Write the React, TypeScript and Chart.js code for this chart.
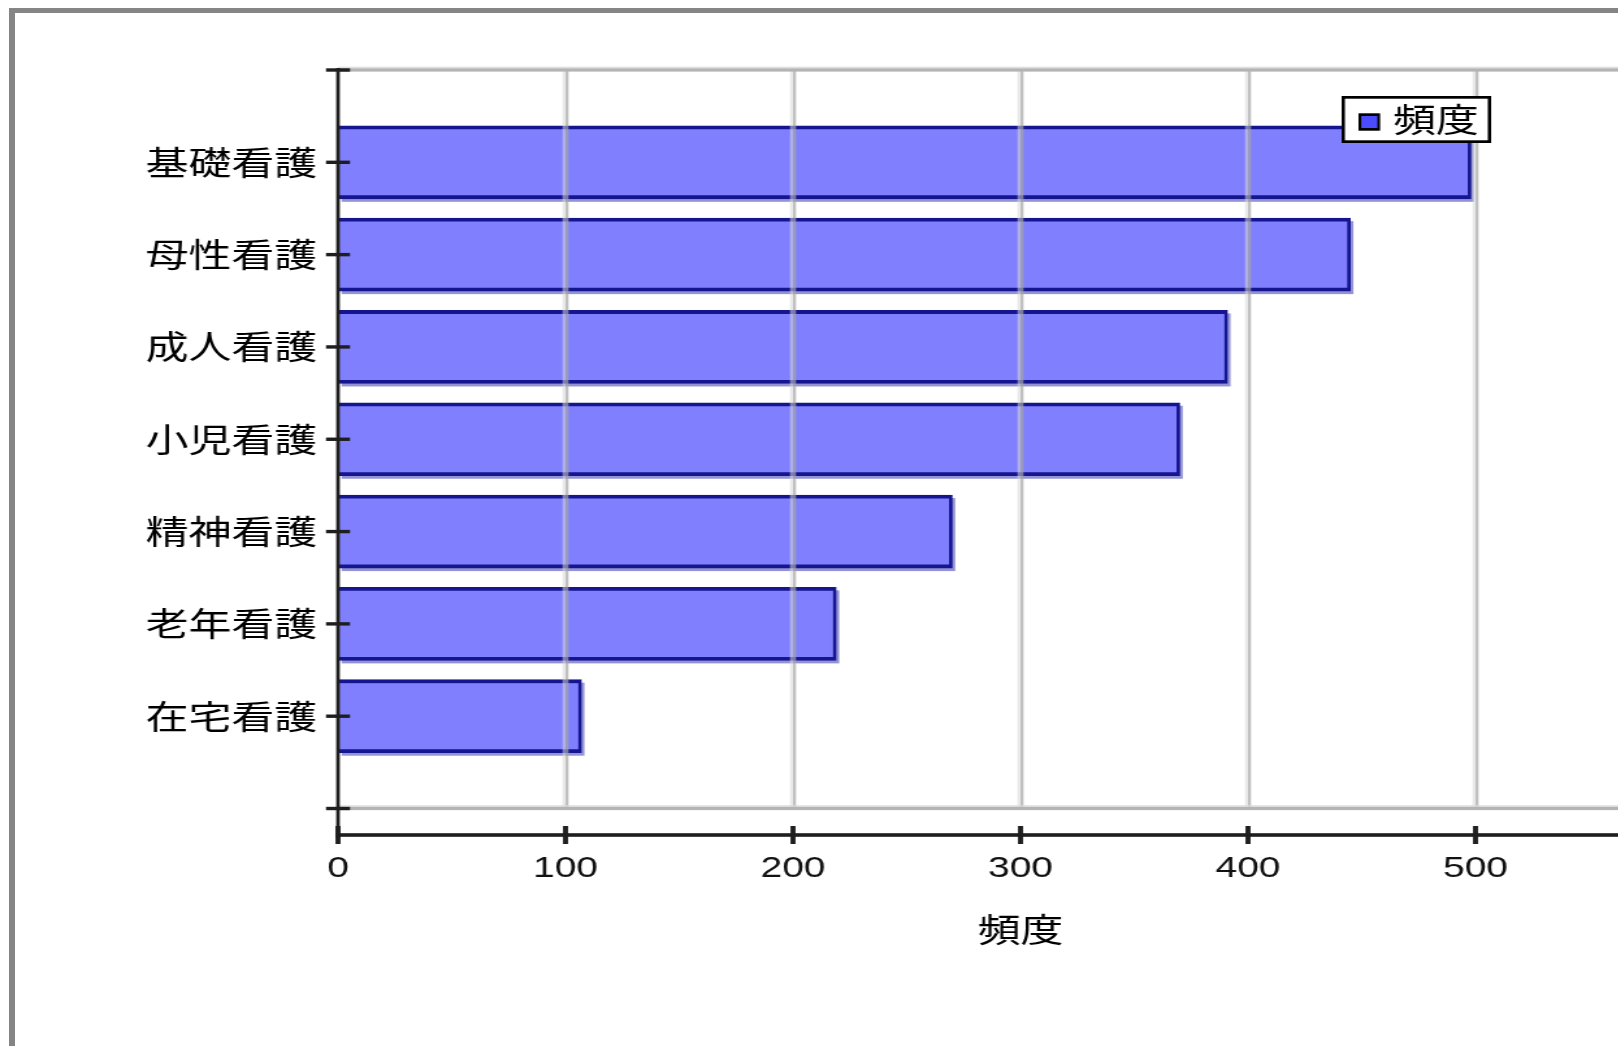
import React, { useEffect, useRef } from 'react';
import { Chart, registerables } from 'chart.js';

Chart.register(...registerables);

// ---- data ----
const CATEGORIES = ['基礎看護', '母性看護', '成人看護', '小児看護', '精神看護', '老年看護', '在宅看護'];
const VALUES = [498, 445, 391, 370, 270, 219, 107];
const SERIES_LABEL = '頻度';
const AXIS_TITLE = '頻度';
const X_TICKS = [0, 100, 200, 300, 400, 500, 600];
const Y_SLOTS = [0, 1, 2, 3, 4, 5, 6, 7, 8];

// ---- style / layout ----
const SX = 1.3; // horizontal stretch of the original rendering
const CW = 1380;
const CH = 1046;
const CJK = '"Noto Sans CJK JP", "Noto Sans CJK SC", sans-serif';
const LAT = '"Liberation Sans", Arial, sans-serif';
const AREA_LEFT = 260;
const AREA_RIGHT = 1310;
const AREA_TOP = 70;
const AREA_BOTTOM = 835;
const X_SCALE_H = 120;
const Y_MAX = 8.287;

export default function App() {
  const ref = useRef<HTMLCanvasElement>(null);

  useEffect(() => {
    const canvas = ref.current;
    if (!canvas) return;

    const overlay = {
      id: 'overlay',
      beforeDatasetsDraw(chart: any) {
        const { ctx } = chart;
        const meta = chart.getDatasetMeta(0);
        ctx.save();
        ctx.fillStyle = 'rgba(40,40,170,0.5)';
        const dx = 3 / SX;
        const dy = 3;
        meta.data.forEach((bar: any) => {
          const { x, y, base, height } = bar.getProps(['x', 'y', 'base', 'height'], true);
          ctx.fillRect(base + dx, y - height / 2 + dy, x - base, height);
        });
        ctx.restore();
      },
      afterDatasetsDraw(chart: any) {
        const { ctx, chartArea, scales } = chart;
        const xs = scales.x;
        const ys = scales.y;
        const yTop = ys.getPixelForValue(Y_SLOTS[0]);
        const yBot = ys.getPixelForValue(Y_SLOTS[Y_SLOTS.length - 1]);
        const axX = chartArea.left;
        const w = chartArea.right - chartArea.left + 60;
        ctx.save();
        // vertical grid lines
        X_TICKS.forEach((v) => {
          if (v === 0) return;
          const px = xs.getPixelForValue(v);
          ctx.fillStyle = 'rgba(215,215,215,0.55)';
          ctx.fillRect(px - 3 / SX, yTop, 3 / SX, yBot - yTop);
          ctx.fillStyle = 'rgba(165,165,165,0.7)';
          ctx.fillRect(px, yTop, 3 / SX, yBot - yTop);
        });
        // horizontal lines at top and bottom of plot
        [yTop, yBot].forEach((py) => {
          ctx.fillStyle = 'rgba(220,220,220,0.9)';
          ctx.fillRect(axX, py - 3.3, w, 1.6);
          ctx.fillStyle = '#b4b4b4';
          ctx.fillRect(axX, py - 1.7, w, 3.3);
        });
        // y axis line
        ctx.fillStyle = '#1e1e1e';
        ctx.fillRect(axX - 1.8 / SX, yTop - 2, 3.6 / SX, chartArea.bottom + 3 - (yTop - 2));
        // y tick marks
        Y_SLOTS.forEach((v) => {
          const py = ys.getPixelForValue(v);
          ctx.fillRect(axX - 12 / SX, py - 1.7, 24 / SX, 3.4);
        });
        // x axis line
        ctx.fillRect(axX - 2 / SX, chartArea.bottom - 1.8, w, 3.6);
        // x tick marks
        X_TICKS.forEach((v) => {
          const px = xs.getPixelForValue(v);
          ctx.fillRect(px - 2.5 / SX, chartArea.bottom - 9, 5 / SX, 18);
        });
        ctx.restore();
      },
      afterDraw(chart: any) {
        const { ctx } = chart;
        const L = 1032, T = 96, R = 1147, B = 143;
        ctx.save();
        ctx.fillStyle = '#fff';
        ctx.fillRect(L, T, R - L, B - T);
        ctx.fillStyle = '#000';
        ctx.fillRect(L, T, R - L, 2.7);
        ctx.fillRect(L, B - 2.7, R - L, 2.7);
        ctx.fillRect(L, T, 3.3 / SX, B - T);
        ctx.fillRect(R - 3.3 / SX, T, 3.3 / SX, B - T);
        // swatch
        const sL = 1045, sT = 113.3, sW = 16.6, sH = 17.4;
        ctx.fillRect(sL, sT, sW, sH);
        ctx.fillStyle = '#4c4cff';
        ctx.fillRect(sL + 2.7 / SX, sT + 2.7, sW - 5.4 / SX, sH - 5.4);
        ctx.fillStyle = '#000';
        ctx.font = `33px ${CJK}`;
        ctx.textBaseline = 'middle';
        ctx.textAlign = 'left';
        ctx.fillText(chart.data.datasets[0].label, 1071.5, 119);
        ctx.restore();
      },
    };

    const chart = new Chart(canvas, {
      type: 'bar',
      data: {
        datasets: [
          {
            label: SERIES_LABEL,
            data: VALUES.map((v, i) => ({ x: v, y: i + 1 })),
            backgroundColor: '#8080ff',
            borderColor: '#15158f',
            borderWidth: { top: 3.8, bottom: 3.8, right: 3.6 / SX, left: 0 },
            borderSkipped: 'start',
            barThickness: 73,
          } as any,
        ],
      },
      options: {
        indexAxis: 'y',
        responsive: false,
        animation: false,
        events: [],
        layout: {
          padding: {
            left: 0,
            top: AREA_TOP,
            right: CW - AREA_RIGHT,
            bottom: CH - AREA_BOTTOM - X_SCALE_H,
          },
        },
        plugins: {
          legend: { display: false },
          tooltip: { enabled: false },
          title: { display: false },
        },
        scales: {
          x: {
            type: 'linear',
            position: 'bottom',
            offset: false,
            min: X_TICKS[0],
            max: X_TICKS[X_TICKS.length - 1],
            afterBuildTicks: (s: any) => {
              s.ticks = X_TICKS.map((v) => ({ value: v }));
            },
            afterFit: (s: any) => {
              s.height = X_SCALE_H;
            },
            grid: {
              display: true,
              offset: false,
              drawOnChartArea: false,
              drawTicks: true,
              tickLength: 9,
              tickColor: 'rgba(0,0,0,0)',
            },
            border: { display: false },
            ticks: {
              padding: 7,
              color: '#111',
              font: { family: LAT, size: 30 },
              maxRotation: 0,
              autoSkip: false,
            },
            title: {
              display: true,
              text: AXIS_TITLE,
              color: '#000',
              font: { family: CJK, size: 33 },
              padding: { top: 0, bottom: 6 },
            },
          },
          y: {
            type: 'linear',
            position: 'left',
            offset: false,
            reverse: true,
            min: 0,
            max: Y_MAX,
            afterBuildTicks: (s: any) => {
              s.ticks = Y_SLOTS.map((v) => ({ value: v }));
            },
            afterFit: (s: any) => {
              s.width = AREA_LEFT;
            },
            grid: {
              display: true,
              offset: false,
              drawOnChartArea: false,
              drawTicks: true,
              tickLength: 8,
              tickColor: 'rgba(0,0,0,0)',
            },
            border: { display: false },
            ticks: {
              padding: 8,
              autoSkip: false,
              color: '#000',
              font: { family: CJK, size: 33 },
              callback: (v: any) => {
                const n = Number(v);
                return Number.isInteger(n) && n >= 1 && n <= CATEGORIES.length ? CATEGORIES[n - 1] : '';
              },
            },
          },
        },
      } as any,
      plugins: [overlay],
    });

    return () => chart.destroy();
  }, []);

  return (
    <div
      style={{
        position: 'fixed',
        left: 0,
        top: 0,
        width: '100vw',
        height: '100vh',
        overflow: 'hidden',
        background: '#fff',
      }}
    >
      <div
        style={{
          position: 'absolute',
          left: 9,
          top: 8,
          width: 4000,
          height: 4000,
          borderLeft: '6px solid #858585',
          borderTop: '5px solid #858585',
          boxSizing: 'border-box',
        }}
      />
      <canvas
        ref={ref}
        width={CW}
        height={CH}
        style={{
          position: 'absolute',
          left: 0,
          top: 0,
          width: `${CW}px`,
          height: `${CH}px`,
          transform: `scaleX(${SX})`,
          transformOrigin: '0 0',
        }}
      />
    </div>
  );
}
